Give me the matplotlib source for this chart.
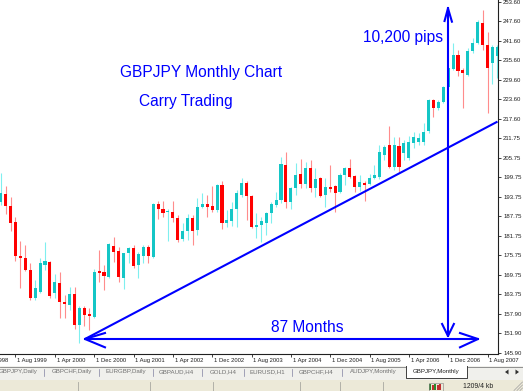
import matplotlib
matplotlib.use("Agg")
import matplotlib.pyplot as plt
from matplotlib.patches import Rectangle, Polygon

plt.rcParams['font.family'] = ['Liberation Sans', 'DejaVu Sans']

# ---------------- data (month index 0 = Aug 1999) ----------------
months = list(range(-3, 99))
opens = [192.22, 194.58, 190.90, 186.08, 175.65, 175.09, 171.26, 162.76, 164.60, 172.79,
         173.80, 164.29, 167.27, 161.44, 160.52, 163.80, 154.23, 159.50, 157.75, 156.92,
         171.04, 170.64, 169.20, 178.62, 177.09, 168.89, 176.38, 178.01, 172.79, 175.55,
         178.22, 175.34, 191.42, 189.98, 188.97, 189.15, 187.31, 180.68, 183.32, 187.22,
         183.53, 190.50, 191.51, 190.90, 189.67, 197.34, 185.59, 186.39, 189.89, 194.27,
         198.05, 194.06, 184.36, 184.98, 185.77, 188.66, 191.21, 192.74, 203.63, 192.22,
         196.33, 200.63, 197.65, 202.47, 196.33, 199.40, 194.27, 196.82, 197.04, 195.29,
         200.41, 202.47, 200.11, 196.82, 198.05, 197.65, 199.40, 199.80, 206.55, 209.62,
         202.96, 209.41, 207.07, 205.54, 210.14, 210.63, 210.63, 213.92, 223.43, 220.88,
         222.91, 227.33, 232.85, 237.24, 232.64, 231.10, 238.56, 240.83, 246.97, 240.31,
         234.69, 236.93]
highs = [201.03, 197.04, 193.75, 187.61, 180.16, 178.93, 173.41, 168.19, 174.94, 179.94,
         174.02, 170.03, 170.74, 163.58, 166.19, 165.89, 160.06, 160.21, 159.75, 171.56,
         177.55, 172.79, 179.54, 181.29, 178.41, 176.57, 178.41, 178.93, 176.87, 178.93,
         178.93, 191.73, 192.43, 192.43, 189.98, 192.53, 188.14, 185.77, 188.44, 188.14,
         193.26, 194.80, 194.27, 197.04, 197.65, 198.57, 189.67, 192.22, 195.81, 199.40,
         198.66, 194.27, 188.66, 187.61, 189.15, 192.22, 195.29, 205.85, 207.47, 196.82,
         204.00, 205.23, 204.49, 205.02, 202.47, 199.89, 199.40, 203.48, 197.34, 200.93,
         202.96, 205.23, 200.41, 200.41, 198.66, 200.72, 203.48, 209.62, 209.62, 215.45,
         212.17, 212.17, 211.15, 212.38, 213.70, 213.21, 216.28, 223.74, 223.64, 223.43,
         227.73, 234.17, 241.02, 238.77, 233.16, 239.30, 242.37, 247.98, 251.05, 244.39,
         240.31, 240.31]
lows = [191.21, 188.44, 183.23, 174.11, 165.73, 170.95, 162.05, 162.05, 164.29, 171.26,
        162.57, 162.66, 156.53, 156.53, 158.98, 153.00, 148.85, 154.07, 152.84, 156.43,
        167.57, 165.12, 168.89, 173.80, 167.67, 165.33, 173.50, 171.78, 168.89, 173.31,
        173.50, 175.03, 186.82, 187.43, 180.25, 186.08, 179.94, 180.16, 180.46, 178.93,
        182.00, 190.29, 187.43, 189.06, 189.06, 183.84, 184.55, 184.76, 184.55, 193.57,
        186.60, 184.05, 180.99, 179.94, 182.00, 185.59, 190.69, 191.73, 190.28, 189.89,
        194.27, 196.33, 196.33, 195.29, 193.57, 193.75, 190.69, 195.29, 189.15, 194.80,
        197.34, 199.40, 195.29, 195.59, 192.53, 197.34, 199.09, 199.28, 205.02, 202.47,
        201.95, 201.43, 205.02, 205.02, 208.61, 209.62, 209.62, 213.21, 218.12, 220.36,
        222.42, 227.02, 232.64, 230.80, 220.88, 230.80, 237.76, 240.62, 238.77, 219.35,
        228.34, 230.18]
closes = [194.80, 190.99, 185.59, 175.55, 174.85, 171.26, 162.76, 165.64, 173.31, 174.11,
          163.28, 167.67, 161.53, 160.82, 163.89, 154.23, 159.50, 157.45, 157.23, 170.74,
          170.43, 169.51, 179.24, 176.87, 169.20, 176.38, 178.10, 172.48, 176.07, 178.22,
          175.55, 191.42, 189.89, 188.84, 189.36, 187.12, 180.46, 183.23, 187.12, 183.23,
          190.50, 191.51, 190.50, 189.67, 197.34, 185.59, 186.60, 189.89, 194.98, 198.05,
          193.97, 184.36, 185.07, 186.39, 188.66, 191.42, 192.74, 203.79, 192.22, 196.33,
          200.41, 197.65, 202.47, 196.33, 199.18, 193.97, 196.82, 196.21, 194.98, 200.41,
          202.47, 199.71, 196.82, 198.36, 197.34, 199.40, 200.41, 207.47, 209.01, 202.96,
          209.62, 202.96, 210.33, 210.63, 211.98, 211.68, 213.70, 223.43, 220.88, 222.91,
          227.33, 233.16, 237.24, 232.42, 231.81, 238.56, 241.02, 247.46, 240.31, 233.16,
          239.79, 239.79]

xtick_months = [-8, 0, 8, 16, 24, 32, 40, 48, 56, 64, 72, 80, 88, 96]
xtick_labels = ["1 Dec 1998", "1 Aug 1999", "1 Apr 2000", "1 Dec 2000", "1 Aug 2001",
                "1 Apr 2002", "1 Dec 2002", "1 Aug 2003", "1 Apr 2004", "1 Dec 2004",
                "1 Aug 2005", "1 Apr 2006", "1 Dec 2006", "1 Aug 2007"]
ytick_values = [253.60, 247.60, 241.60, 235.60, 229.60, 223.60, 217.60, 211.75, 205.75,
                199.75, 193.75, 187.75, 181.75, 175.75, 169.75, 163.75, 157.90, 151.90, 145.90]
ytick_labels = ["%.2f" % v for v in ytick_values]

tab_names = ["GBPJPY,Daily", "GBPCHF,Daily", "EURGBP,Daily", "GBPAUD,H4", "GOLD,H4",
             "EURUSD,H1", "GBPCHF,H4", "AUDJPY,Monthly"]
tab_centers = [18.5, 71.5, 125.5, 176.5, 223, 267.5, 316.5, 373]
tab_seps = [44, 99, 153, 202, 244, 292, 342]
active_tab = "GBPJPY,Monthly"
status_text = "1209/4 kb"

# annotation geometry (data coordinates)
TREND = ((14.13, 150.08), (98.03, 216.80))
H_ARROW = ((14.13, 150.08), (94.06, 150.08))
V_ARROW = ((87.96, 151.00), (87.96, 251.57))

BLUE = '#0000FF'
BULL_BODY, BULL_WICK = '#14C6C6', '#7FEFEF'
BEAR_BODY, BEAR_WICK = '#FF0000', '#FF8C8C'

XLIM = (-3.152, 98.03)
YLIM = (145.48, 254.12)

# ---------------- figure ----------------
W, H = 523, 391
fig = plt.figure(figsize=(W / 100, H / 100), dpi=100)
fig.patch.set_facecolor('white')
PB, PR = 354, 497.5
ax = fig.add_axes([0, 1 - PB / H, PR / W, PB / H])
ax.set_facecolor('white')

for m, o, h, l, c in zip(months, opens, highs, lows, closes):
    bull = c >= o
    ax.vlines(m, l, h, color=BULL_WICK if bull else BEAR_WICK, lw=0.8, zorder=2)
    lo_, hi_ = min(o, c), max(o, c)
    hgt = max(hi_ - lo_, 0.45)
    ax.bar(m, hgt, bottom=lo_, width=0.62, color=BULL_BODY if bull else BEAR_BODY,
           linewidth=0, zorder=3)

# blue annotations
lw = 1.5
ax.plot([TREND[0][0], TREND[1][0]], [TREND[0][1], TREND[1][1]], color=BLUE, lw=lw,
        zorder=5, solid_capstyle='butt')
(hx0, hy), (hx1, _) = H_ARROW
ax.plot([hx0, hx1], [hy, hy], color=BLUE, lw=lw, zorder=5)
ax.plot([hx0 + 4.07, hx0, hx0 + 4.07], [hy + 1.84, hy, hy - 2.55], color=BLUE, lw=lw, zorder=5)
ax.plot([hx1 - 3.66, hx1, hx1 - 3.66], [hy + 1.84, hy, hy - 2.55], color=BLUE, lw=lw, zorder=5)
(vx, vy0), (_, vy1) = V_ARROW
ax.plot([vx, vx], [vy0, vy1], color=BLUE, lw=lw, zorder=5)
ax.plot([vx - 0.7, vx, vx + 0.8], [vy1 - 3.9, vy1, vy1 - 4.1], color=BLUE, lw=lw, zorder=5)
ax.plot([vx - 1.2, vx, vx + 1.2], [vy0 + 3.7, vy0, vy0 + 3.7], color=BLUE, lw=lw, zorder=5)

tkw = dict(color=BLUE, fontsize=11.2, ha='center', va='center', zorder=6)
ax.text(78.81, 242.46, "10,200 pips", **tkw)
ax.text(37.73, 231.72, "GBPJPY Monthly Chart", **tkw)
ax.text(34.57, 223.12, "Carry Trading", **tkw)
ax.text(59.28, 153.76, "87 Months", **tkw)

# axes styling
for s in ['top', 'left']:
    ax.spines[s].set_visible(False)
for s in ['right', 'bottom']:
    ax.spines[s].set_color('#202020')
    ax.spines[s].set_linewidth(0.8)
ax.yaxis.tick_right()
ax.set_yticks(ytick_values)
ax.set_yticklabels(ytick_labels)
ax.tick_params(axis='y', direction='out', length=2.5, width=0.6, pad=1.5,
               labelsize=4.3, colors='#202020')
ax.set_xticks(xtick_months)
ax.set_xticklabels([])
ax.tick_params(axis='x', direction='out', length=2.5, width=0.6, colors='#202020')
ax.set_xlim(*XLIM)
ax.set_ylim(*YLIM)
xt = ax.get_xaxis_transform()
for m, lab in zip(xtick_months, xtick_labels):
    ax.text(m + 0.35, -0.017, lab, transform=xt, ha='left', va='center', fontsize=4.2,
            color='#202020', clip_on=False)

# ---------------- terminal chrome (pixel overlay) ----------------
ov = fig.add_axes([0, 0, 1, 1])
ov.set_xlim(0, W)
ov.set_ylim(H, 0)
ov.axis('off')
ov.patch.set_alpha(0)
ov.add_patch(Rectangle((0, 366), W, 14, fc='#F0F0EC', ec='none'))
ov.add_patch(Rectangle((0, 380), W, 11, fc='#ECE9D8', ec='none'))
ov.plot([0, 406], [366.5, 366.5], color='#808080', lw=0.6)
ov.plot([467, W], [366.5, 366.5], color='#808080', lw=0.6)
ov.add_patch(Rectangle((406, 365.5), 61, 12.5, fc='white', ec='none'))
ov.plot([406, 406, 467, 467], [366, 378, 378, 366], color='#404040', lw=0.7)
for name, cx in zip(tab_names, tab_centers):
    ov.text(cx, 372, name, ha='center', va='center', fontsize=4.4, color='#707070')
for sx in tab_seps:
    ov.plot([sx, sx], [368.5, 375.5], color='#8080A0', lw=0.5)
ov.text(436, 372, active_tab, ha='center', va='center', fontsize=4.4, color='#202020')
ov.add_patch(Polygon([[505, 372], [508.5, 369.5], [508.5, 374.5]], closed=True, fc='#303030', ec='none'))
ov.add_patch(Polygon([[519, 372], [515.5, 369.5], [515.5, 374.5]], closed=True, fc='#303030', ec='none'))
for sx in [78, 150, 213, 300, 340, 383]:
    ov.plot([sx, sx], [381.5, 391], color='#A8A8A0', lw=0.6)
for i, col in enumerate(['#2E8B2E', '#C03030', '#2E8B2E', '#C03030', '#C03030']):
    ov.add_patch(Rectangle((429 + i * 2.6, 383.5 + (i % 2)), 2.0, 6.5 - (i % 2),
                           fc=col, ec='none'))
ov.add_patch(Rectangle((428.5, 382.5), 14, 8, fc='none', ec='#808080', lw=0.4))
ov.text(463, 386, status_text, ha='left', va='center', fontsize=4.9, color='#202020')
for d in [3, 6, 9]:
    ov.plot([W - d, W - 0.5], [H - 0.5, H - d], color='#A0A0A0', lw=0.5)

fig.savefig('out.png', dpi=100, facecolor='white')
